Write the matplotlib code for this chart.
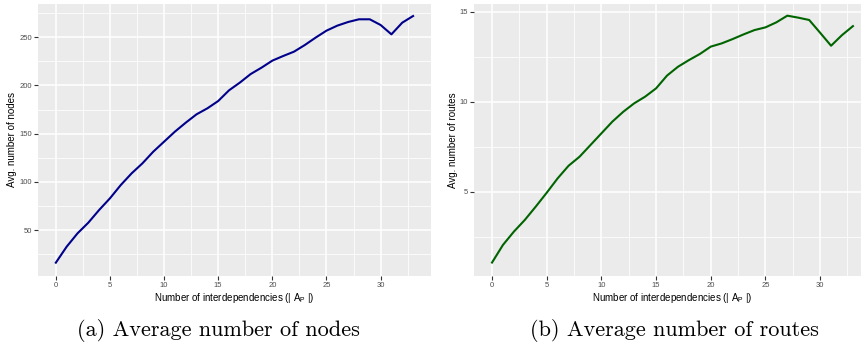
import numpy as np
import matplotlib
matplotlib.use('Agg')
import matplotlib.pyplot as plt
from matplotlib.ticker import MultipleLocator

# interdependencies |A_P|
x = np.arange(34)

# average number of nodes (panel a)
nodes = [16.1, 32.7, 46.5, 57.6, 70.8, 82.9, 96.7, 108.8, 119.2, 131.3,
         141.7, 152.1, 161.4, 170.1, 176.3, 183.9, 195.0, 203.0, 211.9, 218.5,
         225.8, 230.6, 235.1, 242.0, 249.7, 256.9, 262.1, 265.9, 268.7, 268.7,
         262.8, 253.1, 265.2, 272.1]

# average number of routes (panel b)
routes = [1.06, 2.04, 2.78, 3.43, 4.17, 4.94, 5.74, 6.44, 6.94, 7.59,
          8.24, 8.89, 9.44, 9.91, 10.28, 10.74, 11.45, 11.94, 12.31, 12.65,
          13.06, 13.24, 13.48, 13.74, 13.98, 14.13, 14.41, 14.78, 14.67, 14.54,
          13.83, 13.11, 13.70, 14.20]

xlabel = 'Number of interdependencies (| A$_\\mathregular{P}$ |)'
captions = ['(a) Average number of nodes', '(b) Average number of routes']

plt.rcParams['font.family'] = ['Liberation Sans', 'DejaVu Sans']

fig = plt.figure(figsize=(8.61, 3.52), dpi=100)
ax1 = fig.add_axes([0.0441, 0.2168, 0.4564, 0.7719])
ax2 = fig.add_axes([0.5505, 0.2168, 0.4611, 0.7719])


def gg_style(ax, ymajor):
    ax.set_facecolor('#EBEBEB')
    for s in ax.spines.values():
        s.set_visible(False)
    ax.xaxis.set_major_locator(MultipleLocator(5))
    ax.xaxis.set_minor_locator(MultipleLocator(2.5))
    ax.yaxis.set_major_locator(MultipleLocator(ymajor))
    ax.yaxis.set_minor_locator(MultipleLocator(ymajor / 2))
    ax.grid(which='major', color='white', lw=1.1)
    ax.grid(which='minor', color='white', lw=0.55)
    ax.set_axisbelow(True)
    ax.tick_params(which='major', length=2.7, width=0.8, color='#333333',
                   labelsize=5.5, labelcolor='#4D4D4D', pad=1.5)
    ax.tick_params(which='minor', length=0)
    ax.set_xlabel(xlabel, fontsize=7, color='black', labelpad=2)


ax1.plot(x, nodes, color='#00008B', lw=1.5)
gg_style(ax1, 50)
ax1.set_xlim(-1.65, 34.65)
ax1.set_ylim(2.6, 284.6)
ax1.set_ylabel('Avg. number of nodes', fontsize=7, labelpad=1.5)

ax2.plot(x, routes, color='#006400', lw=1.5)
gg_style(ax2, 5)
ax2.set_xlim(-1.65, 34.65)
ax2.set_ylim(0.33, 15.43)
ax2.set_ylabel('Avg. number of routes', fontsize=7, labelpad=1.5)

fig.text(218 / 861, 1 - 331 / 352, captions[0], family='cmr10', fontsize=16,
         ha='center', va='center')
fig.text(674 / 861, 1 - 331 / 352, captions[1], family='cmr10', fontsize=16,
         ha='center', va='center')

fig.savefig('out.png', dpi=100)
